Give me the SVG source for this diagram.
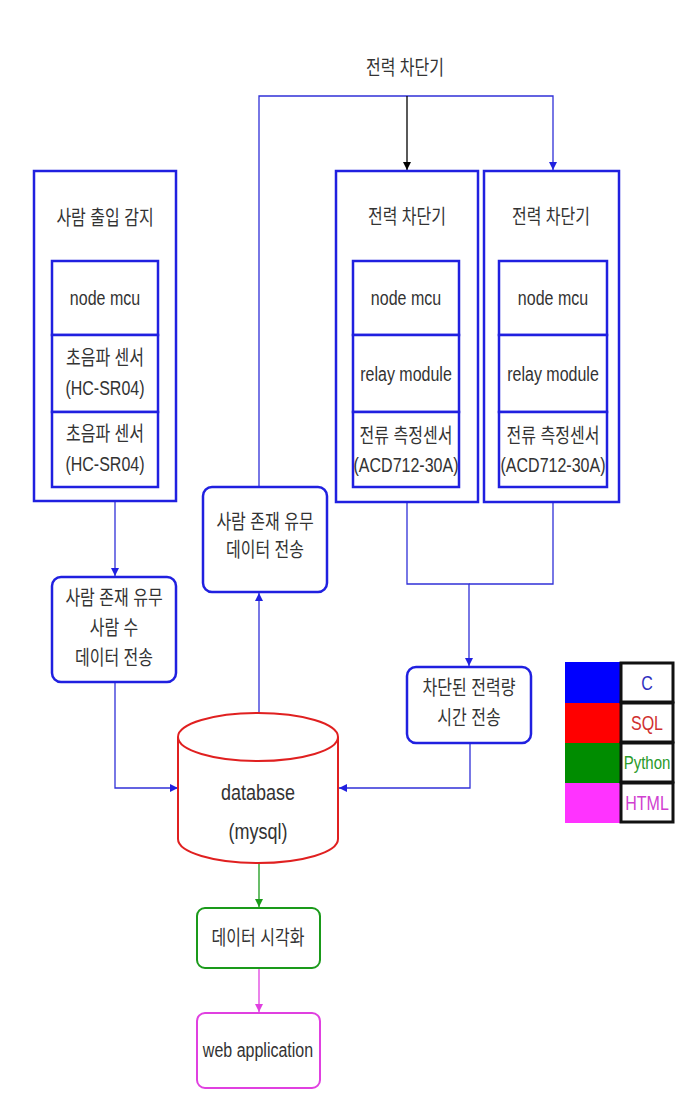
<svg xmlns="http://www.w3.org/2000/svg" width="684" height="1112" viewBox="0 0 684 1112">
<defs>
<style>
.t{font-family:"Liberation Sans","Noto Sans CJK KR",Arial,sans-serif;font-size:16px;fill:#333;text-anchor:middle;dominant-baseline:central}
.outer{fill:#fff;stroke:#2020e0;stroke-width:2.5}
.inner{fill:#fff;stroke:#2020e0;stroke-width:2.5}
.rbox{fill:#fff;stroke:#2020e0;stroke-width:2.5}
.conn{fill:none;stroke:#3030d8;stroke-width:1.3}
</style>
<marker id="aB" viewBox="0 0 10 10" refX="10" refY="5" markerWidth="8" markerHeight="8" markerUnits="userSpaceOnUse" orient="auto"><path d="M0,0 L10,5 L0,10 Z" fill="#2020e0"/></marker>
<marker id="aK" viewBox="0 0 10 10" refX="10" refY="5" markerWidth="8" markerHeight="8" markerUnits="userSpaceOnUse" orient="auto"><path d="M0,0 L10,5 L0,10 Z" fill="#000"/></marker>
<marker id="aG" viewBox="0 0 10 10" refX="10" refY="5" markerWidth="8" markerHeight="8" markerUnits="userSpaceOnUse" orient="auto"><path d="M0,0 L10,5 L0,10 Z" fill="#1a9a1a"/></marker>
<marker id="aM" viewBox="0 0 10 10" refX="10" refY="5" markerWidth="8" markerHeight="8" markerUnits="userSpaceOnUse" orient="auto"><path d="M0,0 L10,5 L0,10 Z" fill="#e040e0"/></marker>
</defs>
<rect width="684" height="1112" fill="#fff"/>

<g id="connectors">
<path class="conn" d="M259,486 V96 H553 V170" marker-end="url(#aB)"/>
<path d="M407,96 V170" fill="none" stroke="#000" stroke-width="1.3" marker-end="url(#aK)"/>
<path class="conn" d="M259,713 V593" marker-end="url(#aB)"/>
<path class="conn" d="M115,502 V576" marker-end="url(#aB)"/>
<path class="conn" d="M115,682 V788 H178" marker-end="url(#aB)"/>
<path class="conn" d="M407,502 V584 H469 V666" marker-end="url(#aB)"/>
<path class="conn" d="M553,502 V584 H469"/>
<path class="conn" d="M470,743 V788 H339" marker-end="url(#aB)"/>
<path d="M259,863 V907" fill="none" stroke="#1a9a1a" stroke-width="1.3" marker-end="url(#aG)"/>
<path d="M259,968 V1012" fill="none" stroke="#e040e0" stroke-width="1.3" marker-end="url(#aM)"/>
</g>

<g id="top-label"><text class="t" transform="translate(405,68) scale(1,1.25)">전력 차단기</text></g>

<g id="people-sensor">
<rect class="outer" x="34" y="171" width="142" height="330"/>
<text class="t" transform="translate(105,218) scale(1,1.25)">사람 출입 감지</text>
<rect class="inner" x="52" y="261" width="106" height="74"/>
<text class="t" transform="translate(105,298) scale(1,1.25)">node mcu</text>
<rect class="inner" x="52" y="335" width="106" height="77"/>
<text class="t" transform="translate(105,358) scale(1,1.25)">초음파 센서</text>
<text class="t" transform="translate(105,388) scale(1,1.25)">(HC-SR04)</text>
<rect class="inner" x="52" y="412" width="106" height="75"/>
<text class="t" transform="translate(105,434) scale(1,1.25)">초음파 센서</text>
<text class="t" transform="translate(105,464) scale(1,1.25)">(HC-SR04)</text>
</g>

<g id="breaker1">
<rect class="outer" x="336" y="171" width="142" height="331"/>
<text class="t" transform="translate(407,217) scale(1,1.25)">전력 차단기</text>
<rect class="inner" x="353" y="261" width="106" height="74"/>
<text class="t" transform="translate(406,298) scale(1,1.25)">node mcu</text>
<rect class="inner" x="353" y="335" width="106" height="77"/>
<text class="t" transform="translate(406,374) scale(1,1.25)">relay module</text>
<rect class="inner" x="353" y="412" width="106" height="75"/>
<text class="t" transform="translate(406,436) scale(1,1.25)">전류 측정센서</text>
<text class="t" transform="translate(406,465) scale(1,1.25)">(ACD712-30A)</text>
</g>

<g id="breaker2">
<rect class="outer" x="484" y="171" width="135" height="331"/>
<text class="t" transform="translate(551,217) scale(1,1.25)">전력 차단기</text>
<rect class="inner" x="499" y="261" width="108" height="74"/>
<text class="t" transform="translate(553,298) scale(1,1.25)">node mcu</text>
<rect class="inner" x="499" y="335" width="108" height="77"/>
<text class="t" transform="translate(553,374) scale(1,1.25)">relay module</text>
<rect class="inner" x="499" y="412" width="108" height="75"/>
<text class="t" transform="translate(553,436) scale(1,1.25)">전류 측정센서</text>
<text class="t" transform="translate(553,465) scale(1,1.25)">(ACD712-30A)</text>
</g>

<g id="presence-send">
<rect class="rbox" x="203" y="487" width="124" height="105" rx="9"/>
<text class="t" transform="translate(265,522) scale(1,1.25)">사람 존재 유무</text>
<text class="t" transform="translate(265,550) scale(1,1.25)">데이터 전송</text>
</g>

<g id="presence-count-send">
<rect class="rbox" x="52" y="577" width="124" height="105" rx="9"/>
<text class="t" transform="translate(114,598) scale(1,1.25)">사람 존재 유무</text>
<text class="t" transform="translate(114,628) scale(1,1.25)">사람 수</text>
<text class="t" transform="translate(114,658) scale(1,1.25)">데이터 전송</text>
</g>

<g id="power-send">
<rect class="rbox" x="407" y="667" width="124" height="76" rx="9"/>
<text class="t" transform="translate(469,688) scale(1,1.25)">차단된 전력량</text>
<text class="t" transform="translate(469,718) scale(1,1.25)">시간 전송</text>
</g>

<g id="database">
<path d="M178,737 A80,24 0 0 1 338,737 V839 A80,24 0 0 1 178,839 Z" fill="#fff" stroke="#e02020" stroke-width="2"/>
<path d="M178,737 A80,24 0 0 0 338,737" fill="none" stroke="#e02020" stroke-width="2"/>
<text class="t" style="font-size:18px" transform="translate(258,792) scale(1,1.25)">database</text>
<text class="t" style="font-size:18px" transform="translate(258,831) scale(1,1.25)">(mysql)</text>
</g>

<g id="visualize">
<rect x="197" y="908" width="123" height="60" rx="8" fill="#fff" stroke="#1a9a1a" stroke-width="2"/>
<text class="t" transform="translate(258,938) scale(1,1.25)">데이터 시각화</text>
</g>

<g id="webapp">
<rect x="197" y="1013" width="123" height="75" rx="8" fill="#fff" stroke="#e040e0" stroke-width="2"/>
<text class="t" transform="translate(258,1050) scale(1,1.25)">web application</text>
</g>

<g id="legend">
<rect x="565" y="662" width="55" height="41" fill="#0000ff"/>
<rect x="565" y="703" width="55" height="40" fill="#ff0000"/>
<rect x="565" y="743" width="55" height="40" fill="#008c00"/>
<rect x="565" y="783" width="55" height="40" fill="#ff33ff"/>
<rect x="621" y="663" width="52" height="39" fill="#fff" stroke="#111" stroke-width="3"/>
<rect x="621" y="703" width="52" height="39" fill="#fff" stroke="#111" stroke-width="3"/>
<rect x="621" y="743" width="52" height="39" fill="#fff" stroke="#111" stroke-width="3"/>
<rect x="621" y="783" width="52" height="39" fill="#fff" stroke="#111" stroke-width="3"/>
<text class="t" style="fill:#3030c0" transform="translate(647,683) scale(1,1.25)">C</text>
<text class="t" style="fill:#d03030" transform="translate(647,723) scale(1,1.25)">SQL</text>
<text class="t" style="fill:#2a9a2a;font-size:15px" transform="translate(647,763) scale(1,1.25)">Python</text>
<text class="t" style="fill:#d040d0" transform="translate(647,803) scale(1,1.25)">HTML</text>
</g>
</svg>
